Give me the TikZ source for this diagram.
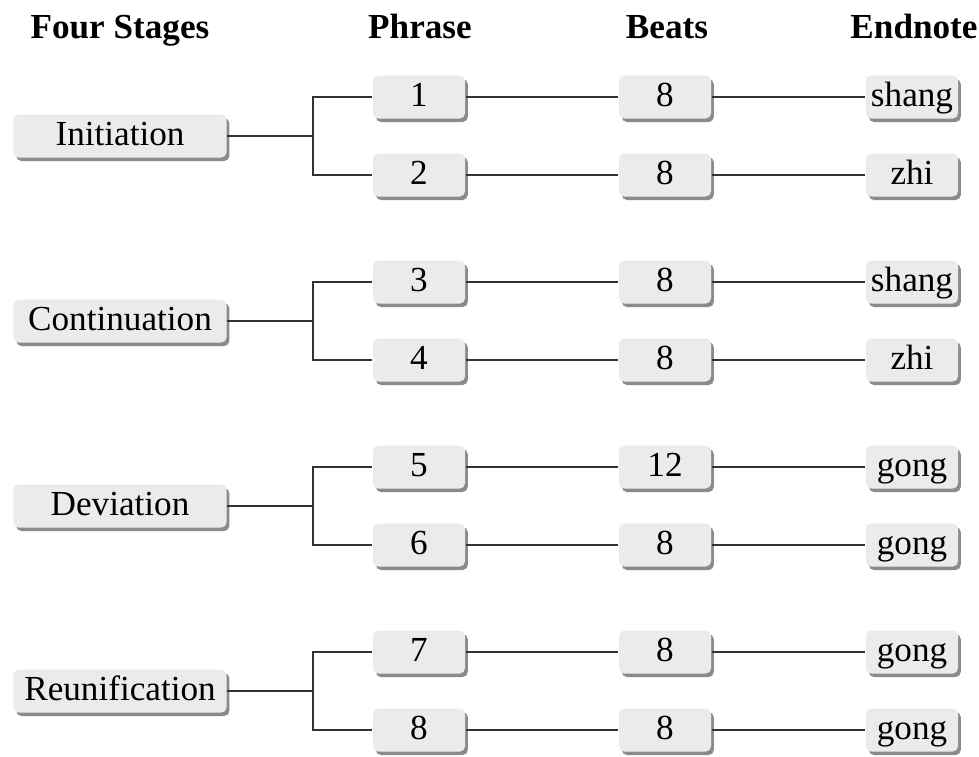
\documentclass[tikz,border=0pt]{standalone}
\usepackage{fontspec}
\setmainfont{Liberation Serif}
\usetikzlibrary{shadows}

\definecolor{boxgray}{RGB}{235,235,235}
\definecolor{shadowgray}{RGB}{110,110,110}

\tikzset{
  box/.style={fill=boxgray, rounded corners=1.5pt, minimum height=0.43cm, inner sep=0pt,
    text height=0.76em, text depth=0.2em,
    drop shadow={shadow xshift=0.8pt, shadow yshift=-1pt, fill=shadowgray, opacity=0.8}},
  stagebox/.style={box, minimum width=2.13cm},
  cellbox/.style={box, minimum width=0.92cm},
  head/.style={font=\bfseries, anchor=base},
  link/.style={draw=black!80, line width=0.5pt},
}

\begin{document}
\begin{tikzpicture}[x=0.01cm, y=-0.01cm]

    \useasboundingbox (0,0) rectangle (979,756);

    %Ueberschriften
    \node[head] (h1) at (120,38) {Four Stages};
    \node[head] (h2) at (420,38) {Phrase};
    \node[head] (h3) at (667,38) {Beats};
    \node[head] (h4) at (914,38) {Endnote};

    %Stufen
    \foreach \s/\name/\y in {1/Initiation/136, 2/Continuation/321, 3/Deviation/506, 4/Reunification/691}{
        \node[stagebox] (s\s) at (120,\y) {\name};
        \coordinate (k\s) at (313,\y);
    }

    %Phrasen, Takte, Endnoten
    \foreach \i/\b/\e/\y in {1/8/shang/97, 2/8/zhi/175, 3/8/shang/282, 4/8/zhi/360,
                             5/12/gong/467, 6/8/gong/545, 7/8/gong/652, 8/8/gong/730}{
        \node[cellbox] (p\i) at (419,\y) {\i};
        \node[cellbox] (b\i) at (665,\y) {\b};
        \node[cellbox] (e\i) at (912,\y) {\e};
        \draw[link] (p\i) -- (b\i);
        \draw[link] (b\i) -- (e\i);
    }

    %Klammern
    \foreach \s/\a/\b in {1/1/2, 2/3/4, 3/5/6, 4/7/8}{
        \draw[link] (s\s) -- (k\s);
        \draw[link] (p\a.west) -| (k\s) |- (p\b.west);
    }

\end{tikzpicture}
\end{document}
